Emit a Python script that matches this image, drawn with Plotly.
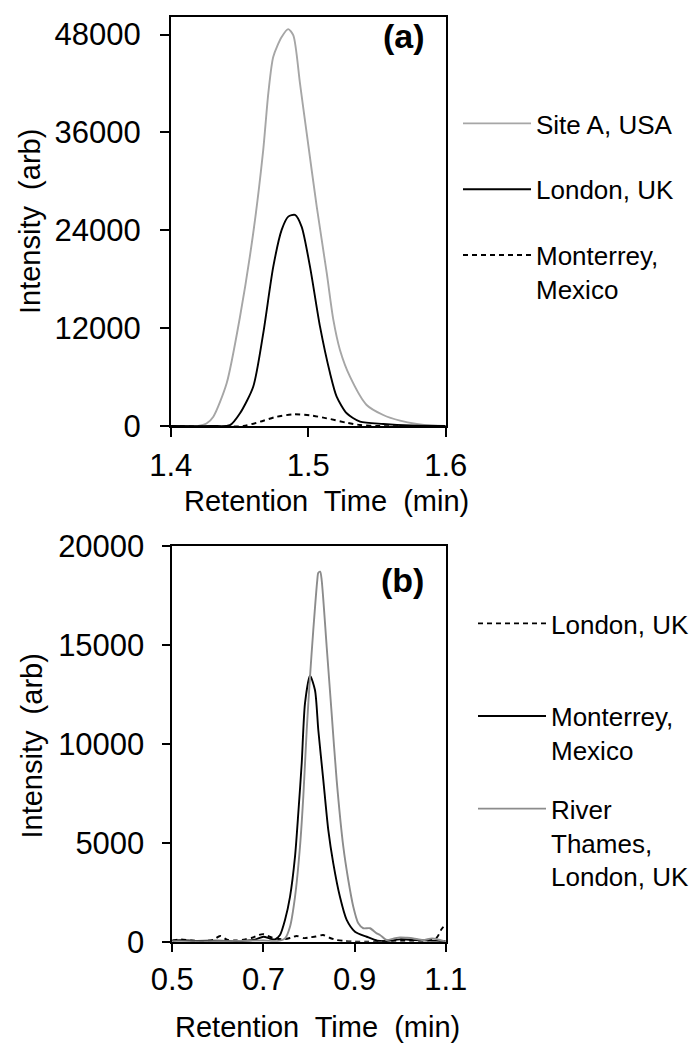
import plotly.graph_objects as go

# The page body adds an 8px margin, so the figure is sized to fit the window after it.
PAGE_OFFSET = 8
W, H = 699 - PAGE_OFFSET, 1044 - PAGE_OFFSET

# ---------------- Panel (a) data ----------------
site_a_t = [1.40, 1.41, 1.42, 1.426, 1.431, 1.4407, 1.4504, 1.460, 1.4673, 1.471, 1.4746, 1.4807,
            1.4855, 1.4892, 1.494, 1.4989, 1.5062, 1.5135, 1.5183, 1.5231, 1.5304, 1.5425, 1.5546,
            1.5668, 1.579, 1.59, 1.60]
site_a_i = [0, 0, 20, 300, 1140, 5240, 13400, 23640, 33870, 40830, 45300, 47700,
            48670, 47900, 42050, 35910, 26910, 18740, 13010, 9330, 6050, 2580, 1350,
            650, 245, 60, 20]

london_a_t = [1.40, 1.43, 1.4431, 1.4504, 1.46, 1.4673, 1.4746, 1.4807, 1.4855, 1.4904, 1.4952,
              1.5013, 1.5086, 1.5159, 1.5207, 1.528, 1.5377, 1.5546, 1.575, 1.60]
london_a_i = [0, 0, 100, 1560, 4820, 11370, 19550, 24050, 25680, 25890, 24460,
              19550, 12180, 6470, 3600, 1560, 530, 250, 60, 0]

mont_a_t = [1.40, 1.4528, 1.465, 1.4771, 1.4892, 1.5013, 1.5135, 1.528, 1.5377, 1.55, 1.60]
mont_a_i = [0, 0, 530, 1140, 1430, 1310, 940, 400, 120, 0, 0]

# ---------------- Panel (b) data ----------------
london_b_t = [0.50, 0.52, 0.54, 0.57, 0.59, 0.605, 0.62, 0.64, 0.66, 0.675, 0.69, 0.70, 0.72,
              0.744, 0.76, 0.773, 0.79, 0.802, 0.815, 0.831, 0.845, 0.86, 0.88, 0.90, 0.93,
              0.96, 1.0, 1.03, 1.06, 1.08, 1.09, 1.10]
london_b_i = [50, 120, 60, 40, 100, 290, 100, 60, 120, 200, 340, 380, 200,
              120, 200, 290, 180, 220, 260, 340, 200, 90, 30, 0, 0,
              20, 50, 40, 60, 200, 600, 900]

mont_b_t = [0.50, 0.52, 0.55, 0.60, 0.65, 0.68, 0.70, 0.715, 0.7254, 0.7363, 0.7473, 0.7583,
            0.7693, 0.7765, 0.784, 0.7912, 0.8022, 0.8131, 0.8204, 0.8314, 0.8423, 0.8533,
            0.8679, 0.8827, 0.9009, 0.9266, 0.95, 0.97, 1.0, 1.03, 1.06, 1.08, 1.10]
mont_b_i = [60, 80, 40, 50, 30, 100, 250, 150, 120, 340, 1100, 2270,
            4300, 6490, 9020, 12050, 13450, 12720, 10700, 8170, 5650, 3960,
            2270, 1100, 505, 250, 50, 30, 120, 80, 60, 40, 20]

river_b_t = [0.50, 0.55, 0.60, 0.65, 0.70, 0.73, 0.7473, 0.7583, 0.7693, 0.7802, 0.7875, 0.795,
             0.8022, 0.8094, 0.8182, 0.8204, 0.8245, 0.8278, 0.8388, 0.8497, 0.8607, 0.8753,
             0.8862, 0.8972, 0.9082, 0.9191, 0.9338, 0.9485, 0.9558, 0.9705, 0.985, 1.0,
             1.015, 1.029, 1.05, 1.07, 1.085, 1.10]
river_b_i = [20, 10, 20, 40, 60, 30, 170, 760, 2270, 4800, 7330, 10700,
             13394, 15750, 18280, 18650, 18700, 18280, 14910, 11540, 8170, 4800,
             3120, 1770, 930, 680, 680, 420, 340, 85, 150, 220,
             200, 170, 80, 170, 100, 0]

xa_ticks = [1.4, 1.5, 1.6]
ya_ticks = [0, 12000, 24000, 36000, 48000]
xb_ticks = [0.5, 0.7, 0.9, 1.1]
yb_ticks = [0, 5000, 10000, 15000, 20000]

FONT = "Arial, Liberation Sans, sans-serif"
LIGHT_GRAY = "#a6a6a6"
MID_GRAY = "#8c8c8c"

fig = go.Figure()

def line(x, y, name, color, dash, xaxis, yaxis, legend):
    fig.add_trace(go.Scatter(
        x=x, y=y, mode="lines", name=name,
        line=dict(color=color, width=1.9, dash=dash, shape="spline", smoothing=0.7),
        xaxis=xaxis, yaxis=yaxis, legend=legend, legendgroup=legend + name,
        hoverinfo="skip"))

line(site_a_t, site_a_i, "Site A, USA", LIGHT_GRAY, "solid", "x", "y", "legend")
line(london_a_t, london_a_i, "London, UK", "black", "solid", "x", "y", "legend")
line(mont_a_t, mont_a_i, "Monterrey,<br>Mexico", "black", "5px,4px", "x", "y", "legend")

line(london_b_t, london_b_i, "London, UK<br> ", "black", "5px,4px", "x2", "y2", "legend2")
line(mont_b_t, mont_b_i, "Monterrey,<br>Mexico", "black", "solid", "x2", "y2", "legend2")
line(river_b_t, river_b_i, "River<br>Thames,<br>London, UK", MID_GRAY, "solid", "x2", "y2", "legend2")

def px_x(p):
    return (p - PAGE_OFFSET) / W

def px_y(p):
    return 1 - (p - PAGE_OFFSET) / H

axis_common = dict(showline=True, mirror=True, linecolor="black", linewidth=1.5,
                   ticks="outside", ticklen=9, tickwidth=1.5, tickcolor="black",
                   showgrid=False, zeroline=False, automargin=False,
                   tickfont=dict(family=FONT, size=31, color="black"))

fig.update_layout(
    template="none",
    width=W, height=H, autosize=False,
    margin=dict(l=0, r=0, t=0, b=0, pad=0),
    paper_bgcolor="white", plot_bgcolor="white",
    font=dict(family=FONT, color="black"),
    xaxis=dict(domain=[px_x(170.7), px_x(445.7)], range=[1.4, 1.6], tickvals=xa_ticks,
               tickformat=".1f", anchor="y", ticklabelstandoff=2, **axis_common),
    yaxis=dict(domain=[px_y(426), px_y(16.7)], range=[0, 50200], tickvals=ya_ticks,
               tickformat="d", anchor="x", ticklabelstandoff=13, **axis_common),
    xaxis2=dict(domain=[px_x(172.3), px_x(445.7)], range=[0.5, 1.1], tickvals=xb_ticks,
                tickformat=".1f", anchor="y2", **axis_common),
    yaxis2=dict(domain=[px_y(941.7), px_y(546)], range=[0, 20000], tickvals=yb_ticks,
                tickformat="d", anchor="x2", ticklabelstandoff=11, **axis_common),
    legend=dict(x=px_x(458), y=px_y(100), xanchor="left", yanchor="top",
                font=dict(family=FONT, size=26, color="black"), bgcolor="rgba(0,0,0,0)",
                itemwidth=68, valign="top", tracegroupgap=29, traceorder="grouped"),
    legend2=dict(x=px_x(473), y=px_y(600), xanchor="left", yanchor="top",
                 font=dict(family=FONT, size=26, color="black"), bgcolor="rgba(0,0,0,0)",
                 itemwidth=68, valign="top", tracegroupgap=22, traceorder="grouped"),
    showlegend=True,
)

TITLE_FONT = dict(family=FONT, size=29, color="black")
ann = []
ann.append(dict(text="Retention  Time  (min)", x=px_x(326), y=px_y(501), xref="paper", yref="paper",
                showarrow=False, xanchor="center", yanchor="middle", font=TITLE_FONT))
ann.append(dict(text="Retention  Time  (min)", x=px_x(317), y=px_y(1027), xref="paper", yref="paper",
                showarrow=False, xanchor="center", yanchor="middle", font=TITLE_FONT))
ann.append(dict(text="Intensity  (arb)", x=px_x(30), y=px_y(222), xref="paper", yref="paper",
                showarrow=False, xanchor="center", yanchor="middle", textangle=-90, font=TITLE_FONT))
ann.append(dict(text="Intensity  (arb)", x=px_x(31.5), y=px_y(746), xref="paper", yref="paper",
                showarrow=False, xanchor="center", yanchor="middle", textangle=-90, font=TITLE_FONT))
ann.append(dict(text="<b>(a)</b>", x=px_x(404), y=px_y(36), xref="paper", yref="paper",
                showarrow=False, xanchor="center", yanchor="middle",
                font=dict(family=FONT, size=34, color="black")))
ann.append(dict(text="<b>(b)</b>", x=px_x(402), y=px_y(580), xref="paper", yref="paper",
                showarrow=False, xanchor="center", yanchor="middle",
                font=dict(family=FONT, size=34, color="black")))
fig.update_layout(annotations=ann)

fig.write_html("out.html")
